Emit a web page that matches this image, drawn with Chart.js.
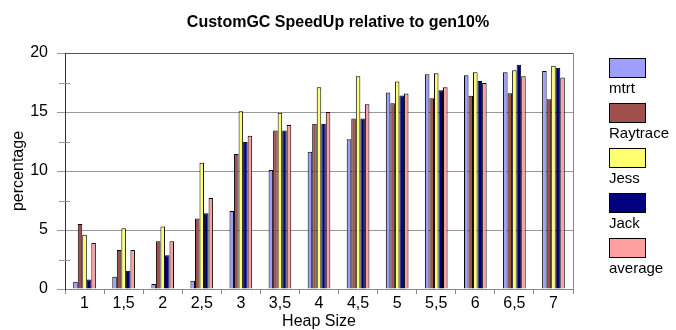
<!DOCTYPE html>
<html>
<head>
<meta charset="utf-8">
<script src="https://cdn.jsdelivr.net/npm/chart.js@4/dist/chart.umd.min.js"></script>
<style>
html,body{margin:0;padding:0;background:#fff;}
#wrap{position:relative;width:676px;height:330px;}
</style>
</head>
<body>
<div id="wrap"><canvas id="c" width="676" height="330"></canvas></div>
<script>
const categories = ['1','1,5','2','2,5','3','3,5','4','4,5','5','5,5','6','6,5','7'];
const mtrt     = [0.62, 1.04, 0.42, 0.70, 6.62, 10.08, 11.63, 12.70, 16.65, 18.20, 18.11, 18.37, 18.48];
const raytrace = [5.50, 3.30, 4.05, 5.97, 11.44, 13.44, 14.00, 14.45, 15.75, 16.17, 16.37, 16.59, 16.08];
const jess     = [4.60, 5.15, 5.30, 10.70, 15.07, 14.93, 17.10, 18.03, 17.58, 18.28, 18.37, 18.54, 18.93];
const jack     = [0.80, 1.55, 2.87, 6.42, 12.45, 13.44, 14.00, 14.45, 16.39, 16.85, 17.63, 19.01, 18.76];
const average  = [3.90, 3.30, 4.05, 7.72, 12.99, 13.89, 14.99, 15.66, 16.56, 17.10, 17.46, 18.03, 17.92];
const seriesNames = ['mtrt','Raytrace','Jess','Jack','average'];
const yTicks = [0, 5, 10, 15, 20];

const colors = ['#9E9EFF', '#A0504C', '#FFFF70', '#000080', '#FFA0A0'];
const FONT = '"Liberation Sans", Arial, sans-serif';

const legendPlugin = {
  id: 'sideLegend',
  afterDraw(chart) {
    const ctx = chart.ctx;
    ctx.save();
    chart.data.datasets.forEach((ds, i) => {
      const x = 609.5, y = 58.5 + i * 45;
      ctx.fillStyle = ds.backgroundColor;
      ctx.fillRect(x, y, 36, 19);
      ctx.strokeStyle = '#000';
      ctx.lineWidth = 1;
      ctx.strokeRect(x, y, 36, 19);
      ctx.fillStyle = '#000';
      ctx.font = '15px ' + FONT;
      ctx.textAlign = 'left';
      ctx.textBaseline = 'alphabetic';
      ctx.fillText(ds.label, 609, y + 34.5);
    });
    ctx.restore();
  }
};

const minorTickPlugin = {
  id: 'minorTicks',
  afterDatasetsDraw(chart) {
    const ys = chart.scales.y;
    const ctx = chart.ctx;
    ctx.save();
    ctx.strokeStyle = '#999';
    ctx.lineWidth = 1;
    ys.ticks.forEach(t => {
      if (t.value % 5 !== 0) {
        const py = Math.round(ys.getPixelForValue(t.value)) + 0.5;
        ctx.beginPath();
        ctx.moveTo(ys.right - 6, py);
        ctx.lineTo(ys.right + 5, py);
        ctx.stroke();
      }
    });
    ctx.restore();
  }
};

const data = {
  labels: categories,
  datasets: [mtrt, raytrace, jess, jack, average].map((d, i) => ({
    label: seriesNames[i],
    data: d,
    backgroundColor: colors[i],
    borderColor: '#000',
    borderWidth: 1,
    borderSkipped: 'bottom',
    categoryPercentage: 0.58,
    barPercentage: 1.0
  }))
};

new Chart(document.getElementById('c'), {
  type: 'bar',
  data,
  plugins: [legendPlugin, minorTickPlugin],
  options: {
    responsive: false,
    animation: false,
    devicePixelRatio: 1,
    layout: { padding: { left: 0, right: 0, top: 0, bottom: 0 } },
    plugins: {
      legend: { display: false },
      tooltip: { enabled: false },
      title: {
        display: true,
        text: 'CustomGC SpeedUp relative to gen10%',
        color: '#000',
        font: { family: FONT, size: 16, weight: 'bold' },
        padding: { top: 13, bottom: 20.8 }
      }
    },
    scales: {
      x: {
        offset: true,
        afterFit(s) { s.height = 41; },
        grid: {
          offset: true,
          drawOnChartArea: true,
          color: c => (c.type === 'tick' ? 'rgba(0,0,0,0)' : '#888'),
          tickColor: '#888',
          tickLength: 5
        },
        border: { display: true, color: '#888' },
        ticks: {
          color: '#000',
          font: { family: FONT, size: 16 },
          padding: 0,
          maxRotation: 0,
          autoSkip: false
        },
        title: {
          display: true,
          text: 'Heap Size',
          color: '#000',
          font: { family: FONT, size: 16 },
          padding: { top: 0, bottom: -1 }
        }
      },
      y: {
        min: 0,
        max: 20,
        afterFit(s) { s.width = 65; },
        ticks: {
          stepSize: 2.5,
          color: '#000',
          font: { family: FONT, size: 16 },
          padding: 9,
          callback: v => (yTicks.includes(v) ? String(v) : '')
        },
        grid: {
          color: c => (c.tick && c.tick.value === 20 ? '#555' : (c.tick && c.tick.value % 5 === 0 ? '#999' : 'rgba(0,0,0,0)')),
          tickColor: c => (c.tick && c.tick.value % 5 === 0 ? '#999' : 'rgba(0,0,0,0)'),
          tickLength: 8
        },
        border: { display: true, color: '#333' },
        title: {
          display: true,
          text: 'percentage',
          color: '#000',
          font: { family: FONT, size: 16 },
          padding: { top: 9, bottom: 0 }
        }
      },
      legendSpace: {
        type: 'linear',
        position: 'right',
        display: true,
        afterFit(s) { s.width = 103; },
        grid: { display: false, drawOnChartArea: false },
        border: { display: false },
        ticks: { display: false },
        title: { display: false }
      }
    }
  }
});
</script>
</body>
</html>
